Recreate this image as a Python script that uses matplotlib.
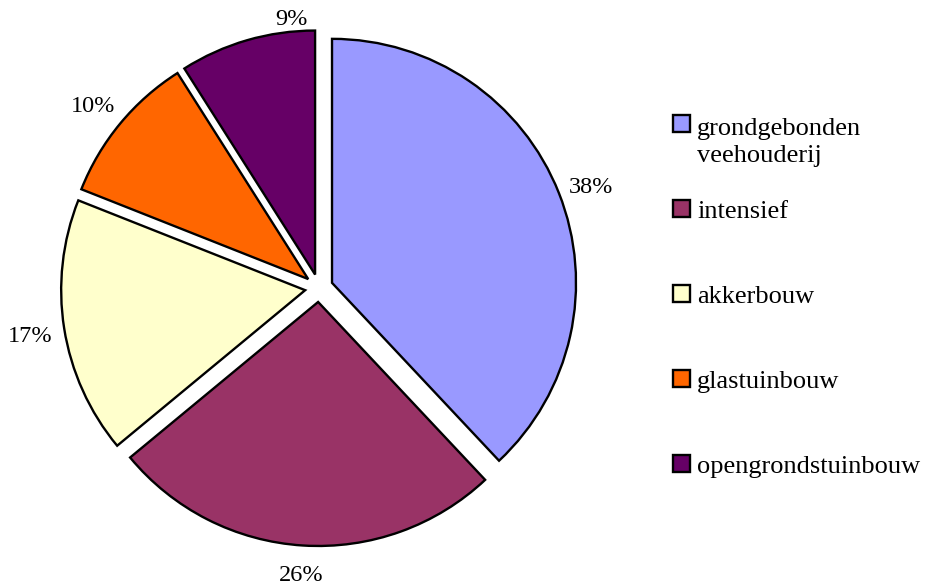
import matplotlib
matplotlib.use('Agg')
import matplotlib.pyplot as plt
from matplotlib.patches import Rectangle
import numpy as np

categories = ['grondgebonden\nveehouderij', 'intensief', 'akkerbouw', 'glastuinbouw', 'opengrondstuinbouw']
shares = [38, 26, 17, 10, 9]
colors = ['#9999FF', '#993366', '#FFFFCC', '#FF6600', '#660066']

plt.rcParams['font.family'] = ['Liberation Serif', 'DejaVu Serif']

W, H = 925, 586
fig = plt.figure(figsize=(W / 100, H / 100), dpi=100)
ax = fig.add_axes([0, 0, 1, 1])

cx, cy, R = 319, H - 288, 244
wedges, _ = ax.pie(shares, colors=colors, startangle=90, counterclock=False,
                   center=(cx, cy), radius=R, explode=[14] * len(shares),
                   wedgeprops=dict(edgecolor='black', linewidth=1.7))
ax.set_xlim(0, W)
ax.set_ylim(0, H)
ax.set_aspect('equal')
ax.axis('off')

# percentage labels outside the slices
label_dist = [1.135, 1.115, 1.14, 1.135, 1.06]
label_angle_adj = [-1, 0, 0, 0.5, -11]
for i, (w, v) in enumerate(zip(wedges, shares)):
    th = np.deg2rad((w.theta1 + w.theta2) / 2 + label_angle_adj[i])
    ox, oy = w.center
    ax.text(ox + label_dist[i] * R * np.cos(th), oy + label_dist[i] * R * np.sin(th),
            f'{v}%', ha='center', va='center_baseline', fontsize=17.5)

# legend
line_px = 29
for k, (lab, col) in enumerate(zip(categories, colors)):
    yc = H - (123.5 + 85 * k)
    ax.add_patch(Rectangle((673, yc - 8.5), 17, 17, facecolor=col, edgecolor='black', linewidth=1.7))
    nlines = lab.count('\n')
    ax.text(697, yc - 9.5 - nlines * line_px, lab, ha='left', va='baseline',
            fontsize=19, linespacing=1.28)

fig.savefig('out.png', dpi=100)
